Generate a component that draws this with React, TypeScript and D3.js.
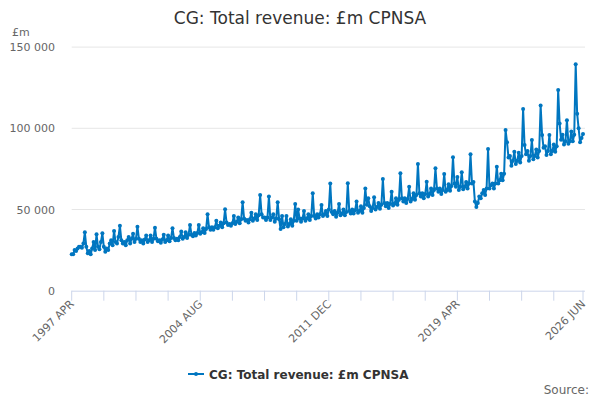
import * as d3 from 'd3';

// CG: Total revenue, £m, monthly from 1997 APR; one row per financial year (Apr..Mar)
const startYear = 1997;
const monthNames = ['JAN', 'FEB', 'MAR', 'APR', 'MAY', 'JUN', 'JUL', 'AUG', 'SEP', 'OCT', 'NOV', 'DEC'];

const revenueByYear: number[][] = [
  [22500, 22500, 25000, 24500, 26000, 27000, 27000, 26500, 29000, 36000, 27000, 23000], // 1997-98
  [24500, 22500, 26000, 30000, 25000, 34700, 27000, 25500, 30000, 35300, 27000, 24000], // 1998-99
  [26000, 25000, 29000, 31000, 28000, 36800, 30000, 29000, 33000, 40000, 31000, 29000], // 1999-00
  [30000, 28000, 31000, 33000, 29000, 32000, 35000, 30000, 32000, 39400, 32000, 30000], // 2000-01
  [31000, 29000, 31500, 34000, 30000, 31000, 34000, 30000, 32000, 38800, 32000, 30500], // 2001-02
  [31000, 29500, 31500, 34500, 30000, 31000, 34000, 30500, 32500, 38400, 32500, 31000], // 2002-03
  [32000, 31000, 33000, 36500, 32000, 33000, 36000, 32500, 34500, 40500, 34500, 33500], // 2003-04
  [35500, 34000, 35500, 40500, 35000, 36000, 38500, 35500, 38000, 47000, 39000, 37500], // 2004-05
  [39000, 37500, 39000, 43000, 38500, 40000, 42000, 39000, 41500, 50100, 42000, 40500], // 2005-06
  [41000, 40000, 41500, 46000, 41000, 42500, 45000, 41500, 44000, 54400, 44500, 43000], // 2006-07
  [43500, 42000, 44000, 48000, 43000, 44500, 47000, 43500, 46500, 58900, 47000, 45000], // 2007-08
  [45000, 43500, 45000, 58000, 43500, 45000, 47000, 42500, 44500, 54400, 44000, 38000], // 2008-09
  [46000, 39000, 41000, 46000, 39500, 41000, 44000, 40000, 43000, 53400, 43000, 50000], // 2009-10
  [44500, 42500, 44500, 49000, 43000, 44500, 47000, 43500, 46000, 60000, 46000, 44500], // 2010-11
  [47000, 45000, 47000, 52800, 46000, 47000, 49000, 46000, 50000, 66000, 48500, 47000], // 2011-12
  [49000, 45500, 48000, 53400, 46500, 47500, 50000, 46500, 48500, 66100, 49000, 47500], // 2012-13
  [50000, 47500, 49500, 55000, 48000, 49000, 52000, 48000, 51000, 63000, 53000, 56900], // 2013-14
  [52000, 49000, 51000, 57500, 50000, 51500, 54000, 50500, 53000, 68800, 54000, 52000], // 2014-15
  [54000, 51000, 53500, 61000, 52500, 53500, 57000, 53000, 56000, 72300, 57000, 55000], // 2015-16
  [57000, 54000, 56500, 64000, 55000, 56500, 60000, 56000, 59000, 78000, 60000, 58000], // 2016-17
  [60000, 57000, 59500, 67100, 58000, 59500, 63000, 59000, 62000, 75400, 63000, 61000], // 2017-18
  [63000, 59500, 62000, 71900, 61000, 62000, 65500, 61500, 64500, 82100, 66000, 64000], // 2018-19
  [70000, 62000, 64000, 73000, 62500, 64000, 67000, 63000, 66000, 84000, 66000, 67000], // 2019-20
  [55000, 51500, 54000, 58000, 57000, 60000, 62000, 59000, 63000, 87300, 63000, 65000], // 2020-21
  [66000, 63000, 66000, 76400, 66000, 68000, 72000, 68000, 72000, 99000, 91400, 82000], // 2021-22
  [83000, 77000, 80000, 85600, 78000, 80000, 85000, 79000, 83000, 111900, 89700, 84000], // 2022-23
  [86000, 80000, 83000, 92800, 81000, 83000, 87000, 82000, 86000, 114000, 95900, 88000], // 2023-24
  [89000, 83500, 86000, 95900, 84000, 86000, 90000, 85500, 89000, 123600, 103000, 93000], // 2024-25
  [96000, 90000, 92000, 105000, 90500, 92000, 98000, 92000, 96000, 139400, 109000, 100000], // 2025-26
  [91400, 94000, 96500], // 2026 APR-JUN
];

const yTicks = [0, 50000, 100000, 150000];
const xTickStep = 22;
const xLabelEvery = 4;

const title = 'CG: Total revenue: £m CPNSA';
const lineColor = '#0076c0';

const W = 600;
const H = 400;

const values = revenueByYear.flat();
const categories = values.map((_, i) => {
  const m = 3 + i; // starts in April
  return `${startYear + Math.floor(m / 12)} ${monthNames[m % 12]}`;
});

const App = () => {
  const n = values.length;
  const x = d3.scaleLinear().domain([0, n - 1]).range([71.7, 583]);
  const y = d3.scaleLinear().domain([0, 150000]).range([290.7, 47.1]);

  const line = d3.line<number>()
    .x((_, i) => x(i))
    .y(d => y(d));

  const fmt = (v: number) => d3.format(',')(v).replace(/,/g, ' ');

  const tickIdx = d3.range(0, n - 1, xTickStep);
  tickIdx.push(n - 1);
  const labelIdx = tickIdx.filter((t, k) => k % xLabelEvery === 0 || t === n - 1);

  const font = '"DejaVu Sans", sans-serif';

  return (
    <svg width={W} height={H} style={{ position: 'absolute', left: 0, top: 0, fontFamily: font }}>
      <rect width={W} height={H} fill="#fff" />
      <text x={W / 2} y={24} textAnchor="middle" fontSize={17} fill="#333">{title}</text>
      <text x={12} y={36} fontSize={11} fill="#666">£m</text>

      {yTicks.map(t => (
        <g key={t}>
          {t > 0 && <line x1={71.7} x2={585} y1={y(t)} y2={y(t)} stroke="#e6e6e6" />}
          <text x={55} y={y(t) + 4} textAnchor="end" fontSize={11} fill="#666">{fmt(t)}</text>
        </g>
      ))}

      <line x1={71.7} x2={585} y1={y(0) + 0.5} y2={y(0) + 0.5} stroke="#ccd6eb" />
      {tickIdx.map(t => (
        <line key={t} x1={x(t)} x2={x(t)} y1={y(0)} y2={y(0) + 10} stroke="#ccd6eb" />
      ))}
      {labelIdx.map(t => (
        <text key={t} transform={`translate(${x(t) + 3},${y(0) + 14}) rotate(-45)`}
          textAnchor="end" fontSize={11} fill="#666">{categories[t]}</text>
      ))}

      <path d={line(values) ?? ''} fill="none" stroke={lineColor} strokeWidth={2} strokeLinejoin="round" />
      {values.map((v, i) => (
        <circle key={i} cx={x(i)} cy={y(v)} r={2} fill={lineColor} />
      ))}

      <g transform="translate(188,374)">
        <line x1={0} x2={16} y1={0} y2={0} stroke={lineColor} strokeWidth={2} />
        <circle cx={8} cy={0} r={2} fill={lineColor} />
        <text x={21} y={4.5} fontSize={12} fontWeight="bold" fill="#333">{title}</text>
      </g>
      <text x={589} y={394} textAnchor="end" fontSize={12} fill="#666">Source:</text>
    </svg>
  );
};

export default App;
